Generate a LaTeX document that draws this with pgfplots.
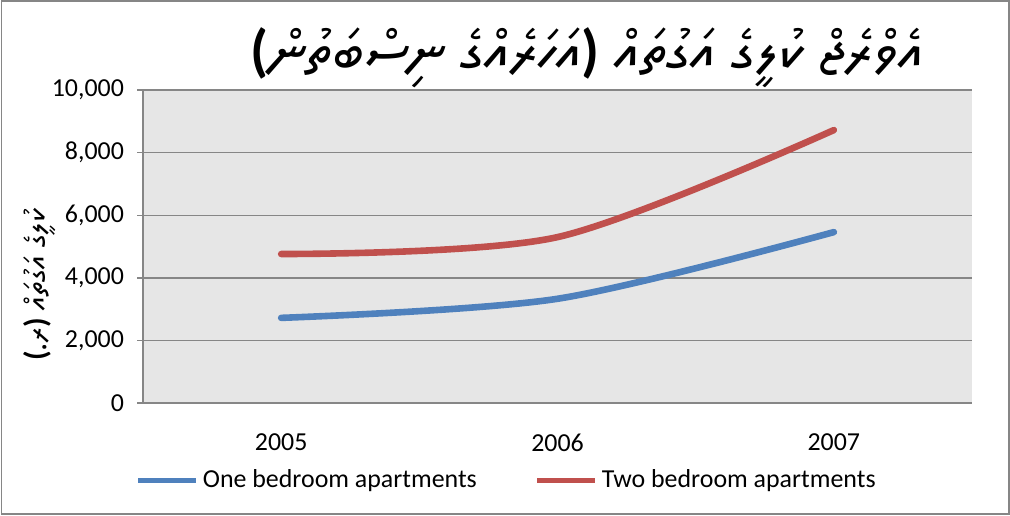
\documentclass[border=0pt]{standalone}
\usepackage{fontspec}
\setmainfont{Carlito}
\usepackage{pgfplots}
\pgfplotsset{compat=1.18}
\TeXXeTstate=1
\IfFontExistsTF{Noto Sans Thaana}{\newfontfamily\thaana[Script=Thaana]{Noto Sans Thaana}}{%
  \IfFontExistsTF{FreeSerif}{\newfontfamily\thaana[Script=Thaana]{FreeSerif}}{\newfontfamily\thaana{DejaVu Sans}}}
\definecolor{oneblue}{RGB}{79,129,189}
\definecolor{twored}{RGB}{192,80,77}
\definecolor{gridgray}{RGB}{134,134,134}
\definecolor{plotbg}{RGB}{230,230,230}
\definecolor{framegray}{RGB}{134,134,134}
\begin{document}
\begin{tikzpicture}[x=1bp,y=1bp]
\path[use as bounding box] (0,0) rectangle (505,257.5);
\draw[framegray, line width=0.7bp] (0.6,0.6) rectangle (504.4,256.9);
\begin{axis}[
  at={(71.5bp,56bp)}, anchor=south west,
  width=414.5bp, height=156.5bp, scale only axis,
  xmin=-0.5, xmax=2.5, ymin=0, ymax=10000,
  xtick={0,1,2}, xticklabels={2005,2006,2007},
  ytick={0,2000,4000,6000,8000,10000},
  scaled y ticks=false,
  axis background/.style={fill=plotbg},
  ymajorgrids, grid style={gridgray, line width=0.7bp},
  axis x line*=bottom, axis y line*=left,
  axis line style={gridgray, line width=0.7bp, -},
  xtick style={draw=none},
  ytick style={gridgray, line width=0.7bp},
  tick align=outside, major tick length=3bp,
  ticklabel style={font=\fontsize{13}{15}\selectfont},
  yticklabel style={xshift=-3bp},
  xticklabel style={yshift=-9bp},
  /pgf/number format/.cd, 1000 sep={,}, assume math mode=true, /pgfplots/.cd,
  legend style={at={(0.44,-0.246)}, anchor=center, draw=none, fill=none,
    legend columns=2, font=\fontsize{13}{15}\selectfont,
    /tikz/every even column/.append style={column sep=27bp}},
  legend cell align=left,
  legend image code/.code={\draw[#1, line width=2.5bp, line cap=butt] (0bp,0bp) -- (29bp,0bp);},
]
\addplot[color=oneblue, line width=3.3bp, smooth, line cap=round] coordinates {(0,2720) (1,3330) (2,5460)};
\addplot[color=twored, line width=3.3bp, smooth, line cap=round] coordinates {(0,4760) (1,5300) (2,8720)};
\legend{One bedroom apartments, Two bedroom apartments}
\end{axis}
\node[font=\thaana\bfseries\fontsize{29}{33}\selectfont, inner sep=0] at (293.5bp,228.5bp)
  {\beginR އެވްރެޖް ކުލީގެ އަގުތައް {\rmfamily\bfseries)}އަހަރެއްގެ ނިސްބަތުން{\rmfamily\bfseries(}\endR};
\node[rotate=90, font=\thaana\bfseries\fontsize{15.5}{18}\selectfont, inner sep=0] at (20bp,115bp)
  {\beginR ކުލީގެ އަގުތައް {\rmfamily\bfseries)}ރ.{\rmfamily\bfseries(}\endR};
\end{tikzpicture}
\end{document}
